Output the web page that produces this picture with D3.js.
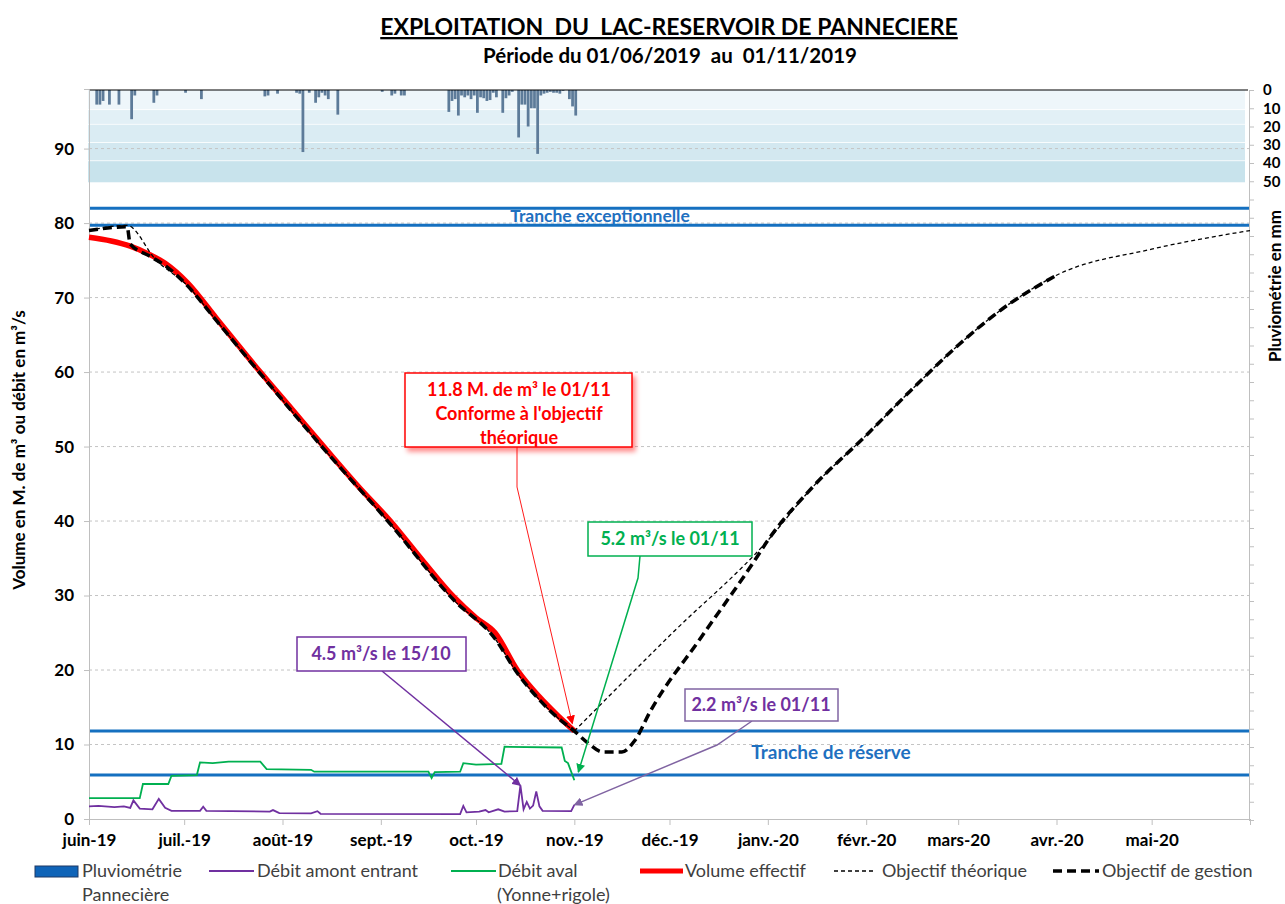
<!DOCTYPE html>
<html>
<head>
<meta charset="utf-8">
<script src="https://cdnjs.cloudflare.com/ajax/libs/d3/7.8.5/d3.min.js"></script>
<style>
body{margin:0;background:#fff;}
text{font-family:Lato,"Open Sans",sans-serif;}
</style>
</head>
<body>
<div id="chart"></div>
<script>
// ---- data ----
var monthLabels = ["juin-19","juil.-19","août-19","sept.-19","oct.-19","nov.-19",
                   "déc.-19","janv.-20","févr.-20","mars-20","avr.-20","mai-20"];
var volumeTicks = [0,10,20,30,40,50,60,70,80,90];
var rainLabelTicks = [0,10,20,30,40,50];

// daily rain (mm), 01/06/2019 -> 01/11/2019
var rainJun = [0,0,8,8,6,0,8,0,0,8,0,0,0,16,3,0,0,0,0,0,7,3,0,0,0,0,0,0,0,0];
var rainJul = [1.5,0,0,0,0,5,0,0,0,0,0,0,0,0,0,0,0,0,0,0,0,0,0,0,0,3.5,3,0,0,2,0];
var rainAug = [0,0,0,0,1.5,2,34,0,1.5,0,7,4,1.5,3,5,0,0,13.5,0,0,0,0,0,0,0,0,0,0,0,0,0];
var rainSep = [1,0,0,3,2,0,3,3,0,0,0,0,0,0,0,0,0,0,0,0,0,12,6,5,14,3,4,3,5,3];
var rainOct = [12.5,4,4.5,6,5.5,1.5,4,0,12.5,4.5,3,1,0,26,8,8,20,10,10,35,3,2,1.5,1,1.5,1.5,2,0.5,0,5,9];
var rainNov = [14];

// shaded rain scale bands (mm)
var rainBands = [0,11,19,29,39,51];

// reservoir thresholds (M. m3)
var tranches = [82,79.7,11.8,5.9];

var volumeDates = ["2019-06-01","2019-06-08","2019-06-14","2019-06-20","2019-06-25","2019-07-02",
  "2019-07-11","2019-07-25","2019-08-04","2019-08-14","2019-08-25","2019-09-04","2019-09-14",
  "2019-09-24","2019-10-01","2019-10-07","2019-10-14","2019-10-21","2019-10-27","2019-11-01"];
var volumeValues = [78.1,77.6,76.9,75.8,74.6,72.0,67.3,60.0,55.0,50.0,44.6,40.0,34.8,29.8,27.0,25.0,20.0,16.4,13.8,11.8];

var theoDates = ["2019-06-01","2019-06-13","2019-06-22","2019-07-02","2019-07-11","2019-07-25",
  "2019-08-14","2019-09-04","2019-09-24","2019-10-07","2019-10-14","2019-10-21","2019-10-27",
  "2019-11-01","2019-12-01","2020-01-01","2020-01-15","2020-02-01","2020-02-15","2020-03-01","2020-03-15",
  "2020-04-01","2020-05-01","2020-06-01"];
var theoValues = [79.0,79.7,75.1,71.6,67.0,59.8,49.7,39.6,29.4,24.2,19.6,16.0,13.5,
  11.8,24.6,37.4,44.5,51.5,57.5,63.6,68.5,73.0,76.5,79.0];

var gestionDates = ["2019-06-01","2019-06-13","2019-06-14","2019-06-20","2019-06-25","2019-07-02",
  "2019-07-11","2019-07-25","2019-08-14","2019-09-04","2019-09-24","2019-10-07","2019-10-14",
  "2019-10-21","2019-10-27","2019-11-01","2019-11-05","2019-11-10","2019-11-16","2019-11-20",
  "2019-11-25","2019-12-11","2019-12-28","2020-01-01","2020-01-15","2020-02-01","2020-02-15",
  "2020-03-01","2020-03-15","2020-04-01"];
var gestionValues = [79.0,79.5,77.2,75.6,74.3,71.6,67.0,59.8,49.7,39.6,29.4,24.2,19.6,
  16.0,13.5,11.8,10.3,9.0,9.0,10.5,14.5,24.4,34.8,37.4,44.5,51.5,57.5,63.6,68.5,73.0];

var amontDates = ["2019-06-01","2019-06-04","2019-06-09","2019-06-12","2019-06-14","2019-06-15",
  "2019-06-17","2019-06-21","2019-06-23","2019-06-25","2019-06-27","2019-07-06","2019-07-07",
  "2019-07-08","2019-07-28","2019-07-29","2019-07-31","2019-08-10","2019-08-12","2019-08-13",
  "2019-09-26","2019-09-27","2019-09-28","2019-10-02","2019-10-04","2019-10-05","2019-10-08",
  "2019-10-10","2019-10-14","2019-10-15","2019-10-16","2019-10-17","2019-10-18","2019-10-19",
  "2019-10-20","2019-10-21","2019-10-22","2019-10-31","2019-11-01"];
var amontValues = [1.7,1.75,1.6,1.7,1.5,2.5,1.4,1.3,2.7,1.5,1.1,1.1,1.65,1.1,1.0,1.2,0.8,0.75,1.05,0.7,
  0.65,1.75,0.9,1.0,1.2,0.9,1.3,1.0,1.05,4.5,1.3,2.3,1.4,1.8,3.7,1.7,1.1,1.05,1.9];

var avalDates = ["2019-06-01","2019-06-17","2019-06-18","2019-06-26","2019-06-27","2019-07-05",
  "2019-07-06","2019-07-10","2019-07-15","2019-07-25","2019-07-27","2019-08-10","2019-08-11",
  "2019-09-16","2019-09-17","2019-09-18","2019-09-26","2019-09-27","2019-10-01","2019-10-09",
  "2019-10-10","2019-10-28","2019-10-29","2019-10-30","2019-11-01"];
var avalValues = [2.8,2.8,4.7,4.7,5.8,5.9,7.6,7.5,7.7,7.7,6.7,6.6,6.35,6.35,5.5,6.3,6.35,7.5,7.3,7.4,
  9.7,9.6,7.8,7.5,5.2];

// ---- setup ----
var parseDate = d3.timeParse("%Y-%m-%d");
var startDate = parseDate("2019-06-01");
var endDate = parseDate("2020-06-01");
var nov1Date = parseDate("2019-11-01");

var svg = d3.select("#chart").append("svg")
  .attr("width", 1285).attr("height", 904);

var x = d3.scaleTime().domain([startDate, endDate]).range([89, 1250]);
var y = d3.scaleLinear().domain([0, 98]).range([819, 89]);
var yRain = d3.scaleLinear().domain([0, 400]).range([90, 820]);

var toPoints = function(dates, values){
  return dates.map(function(d, i){ return {date: parseDate(d), value: values[i]}; });
};

var defs = svg.append("defs");
var addArrow = function(id, color){
  defs.append("marker").attr("id", id)
    .attr("viewBox", "0 0 10 10").attr("refX", 9).attr("refY", 5)
    .attr("markerWidth", 9).attr("markerHeight", 9)
    .attr("markerUnits", "userSpaceOnUse")
    .attr("orient", "auto")
    .append("path").attr("d", "M0,0 L10,5 L0,10 z").attr("fill", color);
};
addArrow("arr-red", "#ff0000");
addArrow("arr-green", "#00b050");
addArrow("arr-purple", "#7030a0");
addArrow("arr-lpurple", "#8064a2");

var shadow = defs.append("filter").attr("id", "redglow")
  .attr("x", "-10%").attr("y", "-20%").attr("width", "130%").attr("height", "150%");
shadow.append("feDropShadow").attr("dx", 3).attr("dy", 4).attr("stdDeviation", 2.5)
  .attr("flood-color", "#ff0000").attr("flood-opacity", 0.45);

//Title
svg.append("text").attr("x", 669).attr("y", 35).attr("text-anchor", "middle")
  .style("font-size", "23px").style("font-weight", "bold").style("text-decoration", "underline")
  .attr("xml:space", "preserve")
  .text("EXPLOITATION  DU  LAC-RESERVOIR DE PANNECIERE");
svg.append("text").attr("x", 670).attr("y", 63).attr("text-anchor", "middle")
  .style("font-size", "20.5px").style("font-weight", "bold")
  .attr("xml:space", "preserve")
  .text("Période du 01/06/2019  au  01/11/2019");

//Rain shaded bands
var bandColors = ["#eef6fa","#e2f0f6","#daecf3","#d3e8f0","#c8e3ec"];
svg.selectAll(".band").data(rainBands.slice(0, -1)).enter().append("rect")
  .attr("x", 88).attr("width", 1157)
  .attr("y", function(d){ return yRain(d); })
  .attr("height", function(d, i){ return yRain(rainBands[i+1]) - yRain(d) - 0.8; })
  .attr("fill", function(d, i){ return bandColors[i]; });

//Gridlines
svg.selectAll(".grid").data(volumeTicks.slice(1)).enter().append("line")
  .attr("x1", 89).attr("x2", 1250)
  .attr("y1", function(d){ return y(d); }).attr("y2", function(d){ return y(d); })
  .attr("stroke", "#c4c4c4").attr("stroke-width", 1).attr("stroke-dasharray", "3,3");

//Rain bars
var rain = rainJun.concat(rainJul, rainAug, rainSep, rainOct, rainNov);
svg.selectAll(".rain").data(rain).enter().append("rect")
  .attr("x", function(d, i){ return x(d3.timeDay.offset(startDate, i)); })
  .attr("width", function(d, i){
    return x(d3.timeDay.offset(startDate, i+1)) - x(d3.timeDay.offset(startDate, i)) - 0.4;
  })
  .attr("y", yRain(0))
  .attr("height", function(d){ return yRain(d) - yRain(0); })
  .attr("fill", "#5d7b99");

//top line of rain axis
svg.append("line").attr("x1", 89).attr("x2", 1248).attr("y1", 90).attr("y2", 90)
  .attr("stroke", "#000").attr("stroke-width", 1.2);

//Tranches
svg.selectAll(".tranche").data(tranches).enter().append("line")
  .attr("x1", 89).attr("x2", 1250)
  .attr("y1", function(d){ return y(d); }).attr("y2", function(d){ return y(d); })
  .attr("stroke", "#1570c0").attr("stroke-width", 3);

svg.append("text").attr("x", 600).attr("y", 222).attr("text-anchor", "middle")
  .style("font-size", "17.5px").style("font-weight", "bold").attr("fill", "#1f70c0")
  .text("Tranche exceptionnelle");
svg.append("text").attr("x", 831).attr("y", 759).attr("text-anchor", "middle")
  .style("font-size", "19px").style("font-weight", "bold").attr("fill", "#1f70c0")
  .text("Tranche de réserve");

//Axes
var xAxis = d3.axisBottom(x).tickValues(d3.timeMonth.range(startDate, d3.timeDay.offset(endDate, 1)))
  .tickSize(6).tickFormat(function(d, i){ return monthLabels[i] || ""; });
var gx = svg.append("g").attr("transform", "translate(0,819)").call(xAxis);
gx.select(".domain").attr("stroke", "#bfbfbf");
gx.selectAll(".tick line").attr("stroke", "#bfbfbf");
gx.selectAll(".tick text").attr("dy", "1.05em").attr("fill", "#000")
  .style("font-size", "17px").style("font-weight", "bold").style("font-family", "Lato");

var yAxis = d3.axisLeft(y).tickValues(volumeTicks).tickSize(5).tickFormat(d3.format("d"));
var gy = svg.append("g").attr("transform", "translate(89,0)").call(yAxis);
gy.select(".domain").attr("stroke", "#bfbfbf");
gy.selectAll(".tick line").attr("stroke", "#bfbfbf");
gy.selectAll(".tick text").attr("x", -15).attr("fill", "#000")
  .style("font-size", "17px").style("font-weight", "bold").style("font-family", "Lato");

var rAxis = d3.axisRight(yRain).tickValues(d3.range(0, 401, 10)).tickSize(5)
  .tickFormat(function(d){ return rainLabelTicks.indexOf(d) >= 0 ? d : ""; });
var gr = svg.append("g").attr("transform", "translate(1249,0)").call(rAxis);
gr.select(".domain").attr("stroke", "#bfbfbf");
gr.selectAll(".tick line").attr("stroke", "#bfbfbf");
gr.selectAll(".tick text").attr("x", 14).attr("fill", "#000")
  .style("font-size", "15px").style("font-weight", "bold").style("font-family", "Lato");

svg.append("text").attr("transform", "translate(25,450) rotate(-90)").attr("text-anchor", "middle")
  .style("font-size", "17px").style("font-weight", "bold")
  .text("Volume en M. de m³ ou débit en m³/s");
svg.append("text").attr("transform", "translate(1281,286) rotate(-90)").attr("text-anchor", "middle")
  .style("font-size", "17px").style("font-weight", "bold")
  .text("Pluviométrie en mm");

//Series
var line = d3.line().x(function(d){ return x(d.date); }).y(function(d){ return y(d.value); });
var smooth = d3.line().curve(d3.curveMonotoneX)
  .x(function(d){ return x(d.date); }).y(function(d){ return y(d.value); });

svg.append("path").datum(toPoints(avalDates, avalValues)).attr("d", line)
  .attr("fill", "none").attr("stroke", "#00b050").attr("stroke-width", 1.8);
svg.append("path").datum(toPoints(amontDates, amontValues)).attr("d", line)
  .attr("fill", "none").attr("stroke", "#7030a0").attr("stroke-width", 1.8);
svg.append("path").datum(toPoints(volumeDates, volumeValues)).attr("d", smooth)
  .attr("fill", "none").attr("stroke", "#ff0000").attr("stroke-width", 5.5);

// theoretical target: drawn in two pieces so the turn on 01/11 stays sharp
var theo = toPoints(theoDates, theoValues);
var theoParts = [theo.filter(function(d){ return d.date <= nov1Date; }),
                 theo.filter(function(d){ return d.date >= nov1Date; })];
svg.selectAll(".theo").data(theoParts).enter().append("path")
  .attr("d", smooth)
  .attr("fill", "none").attr("stroke", "#000").attr("stroke-width", 1.3).attr("stroke-dasharray", "4,3");
svg.append("path").datum(toPoints(gestionDates, gestionValues)).attr("d", smooth)
  .attr("fill", "none").attr("stroke", "#000").attr("stroke-width", 3.5).attr("stroke-dasharray", "9,5");

//Annotations
var nov1 = x(nov1Date);

svg.append("path").attr("d", d3.line()([[517, 447], [517, 487], [nov1 - 2, y(12.8)]]))
  .attr("fill", "none").attr("stroke", "#ff0000").attr("stroke-width", 0.9)
  .attr("marker-end", "url(#arr-red)");
svg.append("rect").attr("x", 405).attr("y", 373).attr("width", 227).attr("height", 74)
  .attr("fill", "#fff").attr("stroke", "#ff0000").attr("stroke-width", 1.5)
  .attr("filter", "url(#redglow)");
var redLines = ["11.8 M. de m³ le 01/11", "Conforme à l'objectif", "théorique"];
svg.selectAll(".redtxt").data(redLines).enter().append("text")
  .attr("x", 519).attr("y", function(d, i){ return 396 + i*24; }).attr("text-anchor", "middle")
  .style("font-size", "18px").style("font-weight", "bold").attr("fill", "#ff0000")
  .text(function(d){ return d; });

svg.append("path").attr("d", d3.line()([[640, 556], [638, 578], [nov1 + 4, y(6.3)]]))
  .attr("fill", "none").attr("stroke", "#00b050").attr("stroke-width", 1.5)
  .attr("marker-end", "url(#arr-green)");
svg.append("rect").attr("x", 588).attr("y", 522).attr("width", 164).attr("height", 34)
  .attr("fill", "#fff").attr("stroke", "#00b050").attr("stroke-width", 1.5);
svg.append("text").attr("x", 670).attr("y", 545).attr("text-anchor", "middle")
  .style("font-size", "18px").style("font-weight", "bold").attr("fill", "#00b050")
  .text("5.2 m³/s le 01/11");

svg.append("path").attr("d", d3.line()([[382, 671], [x(parseDate("2019-10-15")), y(4.5)]]))
  .attr("fill", "none").attr("stroke", "#7030a0").attr("stroke-width", 1.5)
  .attr("marker-end", "url(#arr-purple)");
svg.append("rect").attr("x", 297).attr("y", 637).attr("width", 169).attr("height", 34)
  .attr("fill", "#fff").attr("stroke", "#7030a0").attr("stroke-width", 1.5);
svg.append("text").attr("x", 381).attr("y", 660).attr("text-anchor", "middle")
  .style("font-size", "18px").style("font-weight", "bold").attr("fill", "#7030a0")
  .text("4.5 m³/s le 15/10");

svg.append("path").attr("d", d3.line()([[752, 721], [717, 745], [nov1, y(1.9)]]))
  .attr("fill", "none").attr("stroke", "#8064a2").attr("stroke-width", 1.5)
  .attr("marker-end", "url(#arr-lpurple)");
svg.append("rect").attr("x", 685).attr("y", 689).attr("width", 153).attr("height", 32)
  .attr("fill", "#fff").attr("stroke", "#8064a2").attr("stroke-width", 1.5);
svg.append("text").attr("x", 761).attr("y", 711).attr("text-anchor", "middle")
  .style("font-size", "18px").style("font-weight", "bold").attr("fill", "#7030a0")
  .text("2.2 m³/s le 01/11");

//Legend
var legend = svg.append("g").style("font-size", "18px").attr("fill", "#404040");
legend.append("rect").attr("x", 35).attr("y", 866).attr("width", 43).attr("height", 11)
  .attr("fill", "#0f64b8").attr("stroke", "#1f3864").attr("stroke-width", 1);
legend.append("text").attr("x", 82).attr("y", 877).text("Pluviométrie");
legend.append("text").attr("x", 82).attr("y", 901).text("Pannecière");
legend.append("line").attr("x1", 209).attr("x2", 254).attr("y1", 871).attr("y2", 871)
  .attr("stroke", "#7030a0").attr("stroke-width", 2);
legend.append("text").attr("x", 257).attr("y", 877).text("Débit amont entrant");
legend.append("line").attr("x1", 451).attr("x2", 496).attr("y1", 871).attr("y2", 871)
  .attr("stroke", "#00b050").attr("stroke-width", 2);
legend.append("text").attr("x", 498).attr("y", 877).text("Débit aval");
legend.append("text").attr("x", 497).attr("y", 901).text("(Yonne+rigole)");
legend.append("line").attr("x1", 640).attr("x2", 683).attr("y1", 871).attr("y2", 871)
  .attr("stroke", "#ff0000").attr("stroke-width", 5);
legend.append("text").attr("x", 685).attr("y", 877).text("Volume effectif");
legend.append("line").attr("x1", 834).attr("x2", 876).attr("y1", 871).attr("y2", 871)
  .attr("stroke", "#000").attr("stroke-width", 1.3).attr("stroke-dasharray", "4,3");
legend.append("text").attr("x", 882).attr("y", 877).text("Objectif théorique");
legend.append("line").attr("x1", 1053).attr("x2", 1099).attr("y1", 871).attr("y2", 871)
  .attr("stroke", "#000").attr("stroke-width", 3.5).attr("stroke-dasharray", "9,5");
legend.append("text").attr("x", 1102).attr("y", 877).text("Objectif de gestion");
</script>
</body>
</html>
